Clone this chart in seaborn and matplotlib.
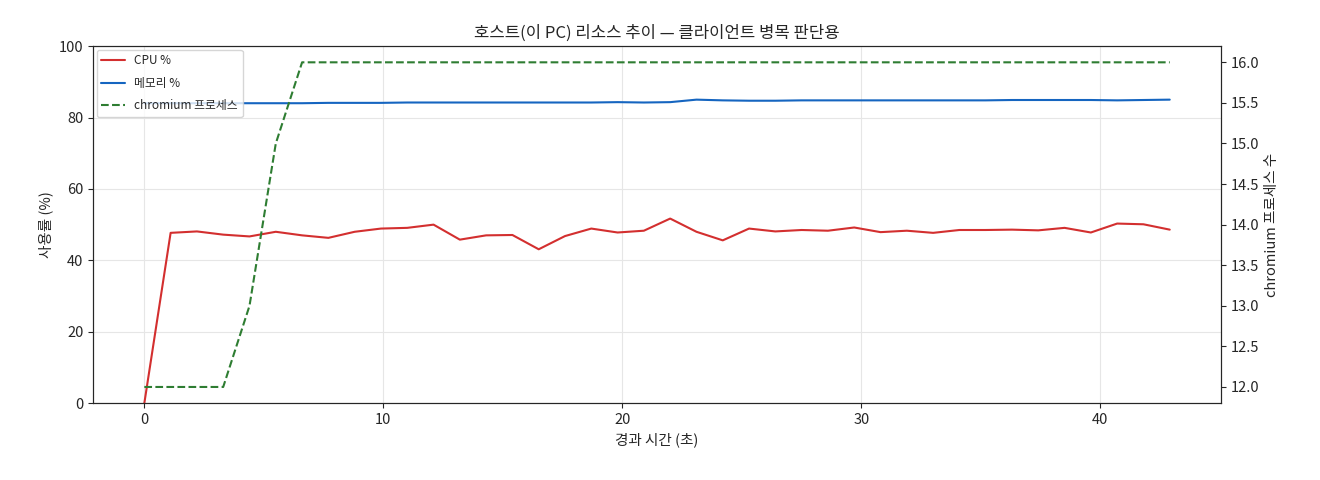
import matplotlib
matplotlib.use("Agg")
import matplotlib.pyplot as plt
import seaborn as sns
import pandas as pd

t = [0.0, 1.1, 2.2, 3.3, 4.4, 5.5, 6.6, 7.7, 8.8, 9.9, 11.0, 12.1, 13.2, 14.3, 15.4, 16.5,
     17.6, 18.7, 19.8, 20.9, 22.0, 23.1, 24.2, 25.3, 26.4, 27.5, 28.6, 29.7, 30.8, 31.9,
     33.0, 34.1, 35.2, 36.3, 37.4, 38.5, 39.6, 40.7, 41.8, 42.9]
cpu = [0.0, 47.7, 48.1, 47.2, 46.7, 48.0, 47.0, 46.3, 48.0, 48.9, 49.1, 50.0, 45.8, 47.0,
       47.1, 43.1, 46.8, 48.9, 47.8, 48.3, 51.7, 48.0, 45.6, 48.9, 48.1, 48.5, 48.3, 49.2,
       47.9, 48.3, 47.7, 48.5, 48.5, 48.6, 48.4, 49.1, 47.8, 50.3, 50.1, 48.6]
mem = [84.0, 84.0, 84.0, 84.0, 84.0, 84.0, 84.0, 84.1, 84.1, 84.1, 84.2, 84.2, 84.2, 84.2,
       84.2, 84.2, 84.2, 84.2, 84.3, 84.2, 84.3, 85.0, 84.8, 84.7, 84.7, 84.8, 84.8, 84.8,
       84.8, 84.8, 84.8, 84.8, 84.8, 84.9, 84.9, 84.9, 84.9, 84.8, 84.9, 85.0]
proc = [12, 12, 12, 12, 13, 15, 16, 16, 16, 16, 16, 16, 16, 16, 16, 16, 16, 16, 16, 16,
        16, 16, 16, 16, 16, 16, 16, 16, 16, 16, 16, 16, 16, 16, 16, 16, 16, 16, 16, 16]

df = pd.DataFrame({"t": t, "cpu": cpu, "mem": mem, "proc": proc})

sns.set_style("ticks")
plt.rcParams['font.family'] = ['Noto Sans CJK KR', 'DejaVu Sans']
plt.rcParams['font.size'] = 10.5

fig, ax = plt.subplots(figsize=(13.2, 4.8), dpi=100)
sns.lineplot(data=df, x="t", y="cpu", ax=ax, color="#d32f2f", lw=1.5, label="CPU %", legend=False)
sns.lineplot(data=df, x="t", y="mem", ax=ax, color="#1565c0", lw=1.5, label="메모리 %", legend=False)
ax.set_ylim(0, 100)
ax.grid(True, color="#e6e6e6", lw=0.8)
ax.set_xlabel("경과 시간 (초)")
ax.set_ylabel("사용률 (%)")
ax.set_title("호스트(이 PC) 리소스 추이 — 클라이언트 병목 판단용", fontsize=12)

ax2 = ax.twinx()
sns.lineplot(data=df, x="t", y="proc", ax=ax2, color="#2e7d32", lw=1.5, linestyle="--",
             label="chromium 프로세스", legend=False)
ax2.set_ylabel("chromium 프로세스 수")

h1, l1 = ax.get_legend_handles_labels()
h2, l2 = ax2.get_legend_handles_labels()
ax.legend(h1 + h2, l1 + l2, loc="upper left", fontsize=8.5, labelspacing=0.8,
          borderaxespad=0.3)

fig.subplots_adjust(left=0.0705, right=0.925, top=0.904, bottom=0.16)
fig.savefig("out.png")
